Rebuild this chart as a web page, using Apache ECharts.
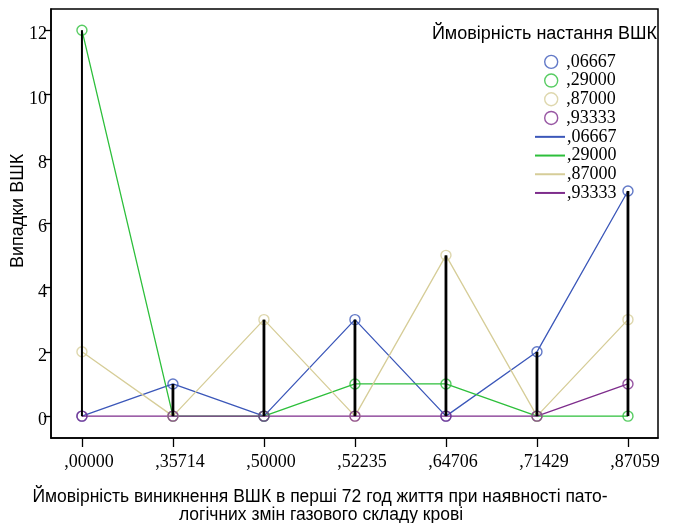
<!DOCTYPE html>
<html>
<head>
<meta charset="utf-8">
<script src="https://cdn.jsdelivr.net/npm/echarts@6/dist/echarts.min.js"></script>
<style>html,body{margin:0;padding:0;background:#fff}#c{width:674px;height:523px}</style>
</head>
<body>
<div id="c"></div>
<script>
const categories = [',00000', ',35714', ',50000', ',52235', ',64706', ',71429', ',87059'];
const seriesNames = [',06667', ',29000', ',87000', ',93333'];
const s06667 = [0, 1, 0, 3, 0, 2, 7];
const s29000 = [12, 0, 0, 1, 1, 0, 0];
const s87000 = [2, 0, 3, 0, 5, 0, 3];
const s93333 = [0, 0, 0, 0, 0, 0, 1];
const yTicks = [0, 2, 4, 6, 8, 10, 12];
const colors = ['#3b57b9', '#2dbf3b', '#d6cd98', '#7e2d8c'];

const allData = [s06667, s29000, s87000, s93333];
const dropTops = categories.map((c, i) => Math.max(...allData.map(d => d[i])));
const xIdx = categories.map((c, i) => i);

const serif = 'Liberation Serif';
const sans = 'Liberation Sans';

const series = [];
allData.forEach((d, k) => {
  series.push({
    name: seriesNames[k] + ' ',
    type: 'line',
    data: d.map((v, i) => [i, v]),
    showSymbol: false,
    symbol: 'none',
    lineStyle: { color: colors[k], width: 1.3 },
    itemStyle: { color: colors[k] },
    z: 2, animation: false
  });
});
allData.forEach((d, k) => {
  series.push({
    name: seriesNames[k],
    type: 'scatter',
    data: d.map((v, i) => [i, v]),
    symbol: 'circle',
    symbolSize: 10,
    itemStyle: { color: 'rgba(0,0,0,0)', borderColor: colors[k], borderWidth: 1.4 },
    z: 3, animation: false
  });
});
series.push({
  type: 'custom',
  data: dropTops.map((v, i) => [i, v]),
  renderItem: function (params, api) {
    const p0 = api.coord([api.value(0), 0]);
    const p1 = api.coord([api.value(0), api.value(1)]);
    return { type: 'line', shape: { x1: p0[0], y1: p0[1], x2: p1[0], y2: p1[1] },
      style: { stroke: '#000', lineWidth: params.dataIndex === 0 ? 2 : 2.8 } };
  },
  z: 4, animation: false, silent: true
});

const chart = echarts.init(document.getElementById('c'), null, { renderer: 'canvas' });
chart.setOption({
  animation: false,
  backgroundColor: '#fff',
  grid: { left: 51, top: 9, right: 16, bottom: 85, show: true, borderColor: '#000', borderWidth: 1.5, backgroundColor: 'transparent' },
  xAxis: {
    type: 'value', min: -0.34, max: 6.33,
    splitLine: { show: false },
    axisLine: { show: true, onZero: false, lineStyle: { color: '#000', width: 1.5 } },
    axisTick: { show: true, length: 9, lineStyle: { color: '#000', width: 1.3 }, customValues: xIdx },
    axisLabel: { customValues: xIdx, formatter: v => categories[Math.round(v)], fontFamily: serif, fontSize: 18, color: '#000', margin: 15, padding: [0, 0, 0, 14] }
  },
  yAxis: {
    type: 'value', min: -0.68, max: 12.66,
    splitLine: { show: false },
    axisLine: { show: true, onZero: false, lineStyle: { color: '#000', width: 1.5 } },
    axisTick: { show: true, length: 7, lineStyle: { color: '#000', width: 1.3 }, customValues: yTicks },
    axisLabel: { customValues: yTicks, fontFamily: serif, fontSize: 18, color: '#000', margin: 4, verticalAlign: 'top', lineHeight: 9 }
  },
  legend: [
    {
      orient: 'vertical', left: 544, top: 52.5, padding: 0, itemGap: 0,
      itemWidth: 20, itemHeight: 13, icon: 'circle',
      textStyle: { fontFamily: serif, fontSize: 18, color: '#000', lineHeight: 18.7 },
      data: seriesNames.map((n, k) => ({ name: n, itemStyle: { color: 'rgba(0,0,0,0)', borderColor: colors[k], borderWidth: 1.4 } })),
      selectedMode: false
    },
    {
      orient: 'vertical', left: 535, top: 127.5, padding: 0, itemGap: 0,
      itemWidth: 30, itemHeight: 2, icon: 'rect',
      formatter: n => n.trim(),
      textStyle: { fontFamily: serif, fontSize: 18, color: '#000', lineHeight: 18.7, padding: [0, 0, 0, -3] },
      data: seriesNames.map((n, k) => ({ name: n + ' ', itemStyle: { color: colors[k], borderWidth: 0 } })),
      selectedMode: false
    }
  ],
  graphic: [
    { type: 'text', x: 657, y: 34, style: { text: 'Ймовірність настання ВШК', font: '18px ' + sans, fill: '#000', align: 'right', verticalAlign: 'middle' } },
    { type: 'text', x: 18, y: 211, rotation: Math.PI / 2, style: { text: 'Випадки ВШК', font: '18px ' + sans, fill: '#000', align: 'center', verticalAlign: 'middle' } },
    { type: 'text', x: 320, y: 497, style: { text: 'Ймовірність виникнення ВШК в перші 72 год життя при наявності пато-', font: '17.5px ' + sans, fill: '#000', align: 'center', verticalAlign: 'middle' } },
    { type: 'text', x: 321, y: 515, style: { text: 'логічних змін газового складу крові', font: '17.5px ' + sans, fill: '#000', align: 'center', verticalAlign: 'middle' } }
  ],
  series: series
});
</script>
</body>
</html>
